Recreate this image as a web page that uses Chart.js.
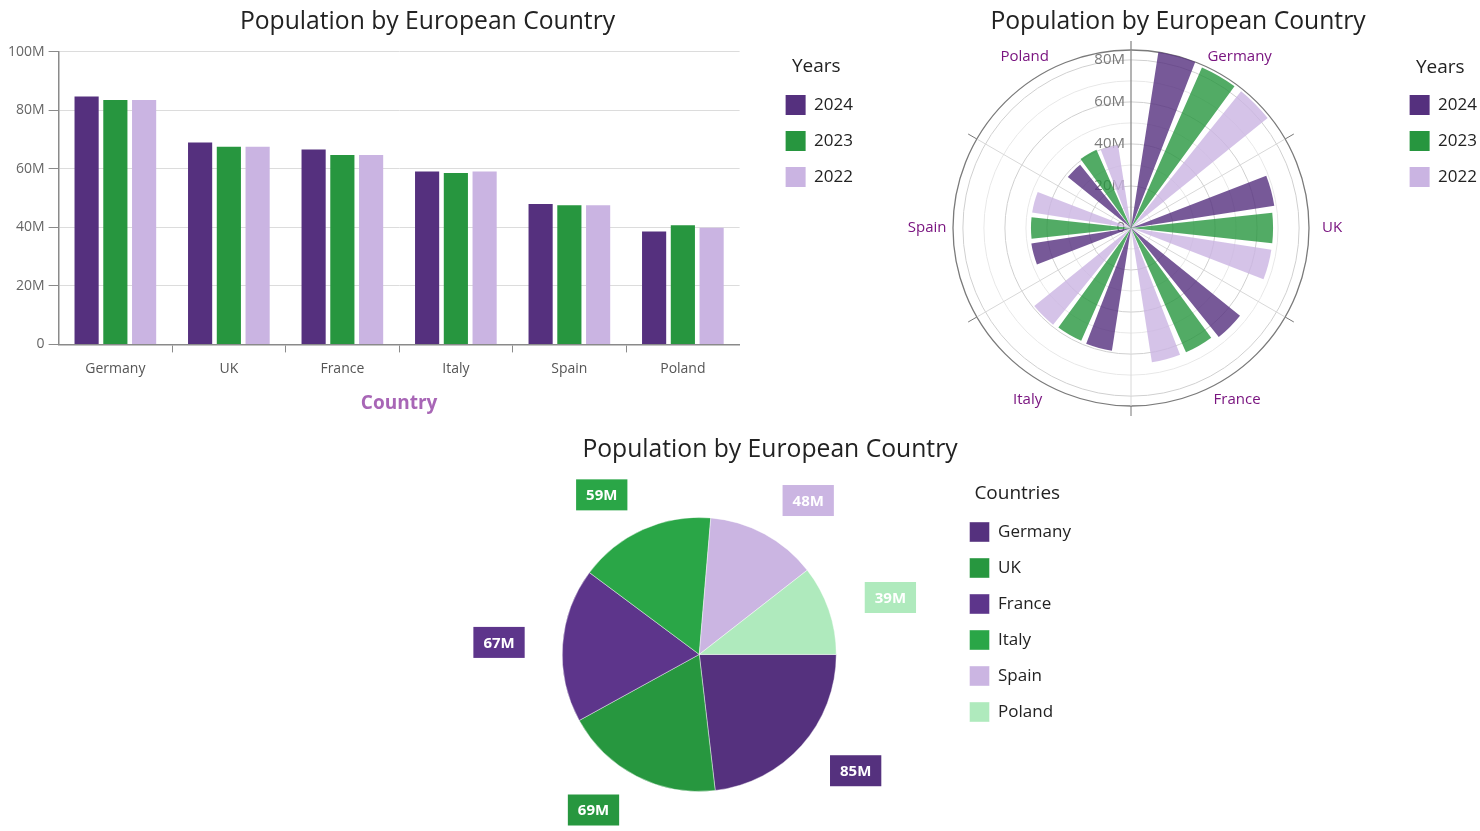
<!DOCTYPE html>
<html>
<head>
<meta charset="utf-8">
<script src="https://cdn.jsdelivr.net/npm/chart.js@4.4.1/dist/chart.umd.min.js"></script>
<style>
  html, body { margin: 0; padding: 0; background: #fff; width: 1480px; height: 831px; overflow: hidden; }
  .box { position: absolute; }
  #barBox { left: -8px; top: 0; width: 871px; height: 422px; }
  #polarBox { left: 869px; top: 0; width: 618px; height: 420px; }
  #pieBox { left: 459px; top: 425px; width: 622px; height: 406px; }
</style>
</head>
<body>
<div class="box" id="barBox"><canvas id="barChart"></canvas></div>
<div class="box" id="polarBox"><canvas id="polarChart"></canvas></div>
<div class="box" id="pieBox"><canvas id="pieChart"></canvas></div>
<script>
// population in millions
const countries = ['Germany', 'UK', 'France', 'Italy', 'Spain', 'Poland'];
const years = ['2024', '2023', '2022'];
const pop2024 = [84.7, 69.0, 66.6, 59.1, 48.0, 38.6];
const pop2023 = [83.5, 67.6, 64.7, 58.6, 47.6, 40.7];
const pop2022 = [83.5, 67.6, 64.7, 59.1, 47.6, 39.9];
const yTicks = [0, 20, 40, 60, 80, 100];
const polarGrid = [0, 10, 20, 30, 40, 50, 60, 70, 80];
const polarTicks = [0, 20, 40, 60, 80];

const yearColors = ['#55307e', '#27963f', '#cab4e2'];
const polarFill = ['rgba(85,48,126,0.8)', 'rgba(39,150,63,0.8)', 'rgba(202,180,226,0.8)'];
const pieColors = ['#55317e', '#27973f', '#5d358b', '#2aa647', '#cbb5e2', '#afeabd'];

const series = [pop2024, pop2023, pop2022];
const TITLE = 'Population by European Country';
const FONT = '"Open Sans", sans-serif';

Chart.defaults.font.family = FONT;
Chart.defaults.color = '#333';
Chart.defaults.animation = false;

// invisible axis used only as a layout gap (keeps the titles centred on the canvas)
function spacer(width, position) {
  return {
    type: 'linear', position: position || 'right', display: true,
    grid: { display: false }, border: { display: false }, ticks: { display: false },
    afterFit: s => { s.width = width; }
  };
}

function legendOpts(title, pad, labels) {
  const o = {
    position: 'right', align: 'start',
    title: { display: true, text: title, color: '#222', font: { size: 19 }, padding: pad },
    labels: { boxWidth: 20, boxHeight: 20, padding: 16, color: '#222', font: { size: 17 } }
  };
  if (labels) o.labels.generateLabels = labels;
  return o;
}

function titleOpts(pad) {
  return { display: true, text: TITLE, color: '#222', font: { size: 24.7, weight: 'normal' }, padding: pad };
}

// ---- bar chart
new Chart(document.getElementById('barChart'), {
  type: 'bar',
  data: {
    labels: countries,
    datasets: years.map((yr, i) => ({
      label: yr,
      data: series[i],
      backgroundColor: yearColors[i],
      barPercentage: 0.84,
      categoryPercentage: 0.76
    }))
  },
  options: {
    responsive: true,
    maintainAspectRatio: false,
    layout: { padding: { bottom: 3 } },
    plugins: {
      title: titleOpts({ top: 7.6, bottom: 14.6 }),
      legend: legendOpts('Years', { top: 57.5, bottom: -1.3 }),
      tooltip: { enabled: false }
    },
    scales: {
      x: {
        grid: {
          display: true, drawOnChartArea: false, offset: true, tickLength: 8,
          tickColor: c => (c.type !== 'tick' || c.index === 0) ? 'rgba(0,0,0,0)' : '#8a8a8a'
        },
        border: { color: '#8a8a8a', width: 1.5 },
        ticks: { color: '#555', font: { size: 14 }, padding: 8 },
        title: { display: true, text: 'Country', color: '#a866b6', font: { size: 19, weight: 'bold' }, padding: { top: 7, bottom: 4 } }
      },
      y: {
        min: 0, max: 100,
        afterBuildTicks: s => { s.ticks = yTicks.map(v => ({ value: v })); },
        grid: { color: '#dcdcdc', tickLength: 10, tickColor: '#8a8a8a' },
        border: { color: '#8a8a8a', width: 1.5 },
        ticks: { color: '#666', font: { size: 14 }, padding: 4, callback: v => v === 0 ? '0' : v + 'M' }
      },
      gapL: spacer(12, 'left'),
      gap: spacer(30)
    }
  }
});

// ---- polar bars: each country gets 60deg, three bars with gaps
const polarValues = [], polarColors = [], polarAngles = [], polarLabels = [];
const catGap = 8.85, barGap = 2.7, barAngle = 12.3;
countries.forEach((c, i) => {
  const push = (v, a, col, lab) => { polarValues.push(v); polarAngles.push(a); polarColors.push(col); polarLabels.push(lab); };
  push(0, catGap, 'rgba(0,0,0,0)', '');
  series.forEach((s, j) => {
    if (j > 0) push(0, barGap, 'rgba(0,0,0,0)', '');
    push(s[i], barAngle, polarFill[j], c + ' ' + years[j]);
  });
  push(0, catGap, 'rgba(0,0,0,0)', '');
});
const rMax = Math.max(...pop2024, ...pop2023, ...pop2022);

const polarDecor = {
  id: 'polarDecor',
  beforeDatasetsDraw(chart) {
    const s = chart.scales.r, ctx = chart.ctx;
    const cx = s.xCenter, cy = s.yCenter, R = s.drawingArea;
    const line = (x1, y1, x2, y2) => { ctx.beginPath(); ctx.moveTo(x1, y1); ctx.lineTo(x2, y2); ctx.stroke(); };
    ctx.save();
    for (let k = 1; k < 6; k++) {
      const a = k * Math.PI / 3, dx = Math.sin(a), dy = -Math.cos(a);
      ctx.lineWidth = 1;
      ctx.strokeStyle = '#d8d8d8';
      line(cx, cy, cx + dx * R, cy + dy * R);
      ctx.strokeStyle = '#777';
      line(cx + dx * R, cy + dy * R, cx + dx * (R + 10), cy + dy * (R + 10));
    }
    ctx.strokeStyle = '#8a8a8a';
    ctx.lineWidth = 1.3;
    line(cx, cy, cx, cy - R - 9);
    ctx.font = '15px ' + FONT;
    ctx.fillStyle = '#7a7a7a';
    ctx.textAlign = 'right';
    ctx.textBaseline = 'middle';
    polarTicks.forEach(v => ctx.fillText(v === 0 ? '0' : v + 'M', cx - 6, cy - s.getDistanceFromCenterForValue(v)));
    ctx.restore();
  },
  afterDatasetsDraw(chart) {
    const s = chart.scales.r, ctx = chart.ctx;
    const cx = s.xCenter, cy = s.yCenter, R = s.drawingArea;
    ctx.save();
    ctx.font = '15px ' + FONT;
    ctx.fillStyle = '#7a1580';
    ctx.textAlign = 'center';
    ctx.textBaseline = 'middle';
    countries.forEach((c, i) => {
      const a = (30 + 60 * i) * Math.PI / 180;
      const sx = Math.sin(a), w = ctx.measureText(c).width;
      ctx.fillText(c, cx + sx * (R + 20) + Math.sign(sx) * w * 0.15, cy - Math.cos(a) * (R + 20));
    });
    ctx.restore();
  }
};

new Chart(document.getElementById('polarChart'), {
  type: 'polarArea',
  data: {
    labels: polarLabels,
    datasets: [{
      data: polarValues,
      backgroundColor: c => polarColors[c.dataIndex],
      angle: c => polarAngles[c.dataIndex],
      borderWidth: 0
    }]
  },
  options: {
    responsive: true,
    maintainAspectRatio: false,
    layout: { padding: { bottom: 13 } },
    plugins: {
      title: titleOpts({ top: 7.6, bottom: 12.6 }),
      legend: legendOpts('Years', { top: 58.5, bottom: -2.3 }, () => years.map((y, i) => ({
        text: y, fillStyle: yearColors[i], strokeStyle: yearColors[i], lineWidth: 0, hidden: false, index: i
      }))),
      tooltip: { enabled: false }
    },
    scales: {
      r: {
        min: 0, max: rMax,
        afterBuildTicks: s => { s.ticks = polarGrid.concat([rMax]).map(v => ({ value: v })); },
        ticks: { display: false },
        angleLines: { display: false },
        pointLabels: { display: false },
        grid: {
          circular: true,
          color: c => c.tick.value >= rMax ? '#7a7a7a' : (c.tick.value % 20 === 0 ? '#d0d0d0' : '#e8e8e8'),
          lineWidth: c => c.tick.value >= rMax ? 1.3 : 1
        }
      },
      gapL: spacer(14, 'left'),
      gap: spacer(14)
    }
  },
  plugins: [polarDecor]
});

// ---- pie with boxed value labels
const pieLabels = {
  id: 'pieLabels',
  afterDatasetsDraw(chart) {
    const meta = chart.getDatasetMeta(0), ctx = chart.ctx;
    ctx.save();
    ctx.font = 'bold 15px ' + FONT;
    ctx.textAlign = 'center';
    ctx.textBaseline = 'middle';
    meta.data.forEach((arc, i) => {
      const p = arc.getProps(['x', 'y', 'startAngle', 'endAngle', 'outerRadius'], true);
      const mid = (p.startAngle + p.endAngle) / 2, d = p.outerRadius + 38;
      const ax = p.x + Math.cos(mid) * d, ay = p.y + Math.sin(mid) * d;
      const txt = Math.round(pop2024[i]) + 'M';
      const w = ctx.measureText(txt).width + 20, h = 31;
      const left = Math.cos(mid) >= 0 ? ax : ax - w;
      ctx.fillStyle = pieColors[i];
      ctx.fillRect(left, ay - h / 2, w, h);
      ctx.fillStyle = '#fff';
      ctx.fillText(txt, left + w / 2, ay + 1);
    });
    ctx.restore();
  }
};

new Chart(document.getElementById('pieChart'), {
  type: 'pie',
  data: {
    labels: countries,
    datasets: [{ data: pop2024, backgroundColor: pieColors, borderWidth: 0.6, borderColor: 'rgba(255,255,255,0.7)' }]
  },
  options: {
    responsive: true,
    maintainAspectRatio: false,
    rotation: 90,
    radius: 137,
    layout: { padding: { bottom: 3 } },
    plugins: {
      title: titleOpts({ top: 10, bottom: 16.2 }),
      legend: legendOpts('Countries', { top: 59.5, bottom: -1.3 }),
      tooltip: { enabled: false }
    },
    scales: { gap: spacer(14) }
  },
  plugins: [pieLabels]
});
</script>
</body>
</html>
